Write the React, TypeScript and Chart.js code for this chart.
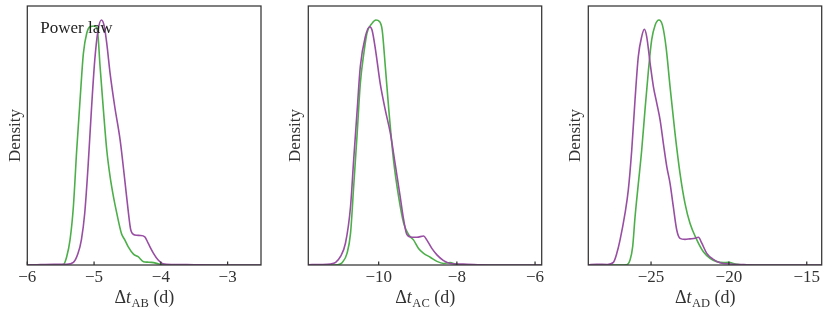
import React, { useEffect, useRef } from 'react';
import { Chart, registerables } from 'chart.js';

Chart.register(...registerables);

const GREEN = '#4daf4a';
const PURPLE = '#984ea3';
const INK = '#333333';
const FONT = '"Liberation Serif", "DejaVu Serif", serif';

// ---------- Panel AB ----------
const abRange = [-6, -2.5];
const abTicks = [-6, -5, -4, -3];
const abGreenX = [-6.0, -5.6, -5.46, -5.41, -5.36, -5.31, -5.26, -5.21, -5.16, -5.11, -5.06, -4.99, -4.95, -4.91, -4.86, -4.81, -4.76, -4.71, -4.66, -4.59, -4.54, -4.49, -4.41, -4.34, -4.26, -4.2, -4.14, -4.04, -3.97, -3.8, -2.5];
const abGreenY = [0, 0, 0.002, 0.032, 0.097, 0.225, 0.444, 0.637, 0.817, 0.895, 0.92, 0.923, 0.907, 0.766, 0.598, 0.444, 0.341, 0.264, 0.2, 0.122, 0.097, 0.071, 0.042, 0.032, 0.013, 0.011, 0.01, 0.005, 0.001, 0, 0];
const abPurpleX = [-6.0, -5.8, -5.6, -5.41, -5.31, -5.24, -5.19, -5.14, -5.09, -5.04, -4.99, -4.94, -4.89, -4.85, -4.81, -4.76, -4.69, -4.61, -4.54, -4.49, -4.45, -4.39, -4.31, -4.24, -4.19, -4.11, -4.04, -3.97, -3.82, -3.5, -3.2, -2.5];
const abPurpleY = [0, 0.002, 0.003, 0.003, 0.01, 0.045, 0.097, 0.2, 0.38, 0.598, 0.79, 0.907, 0.946, 0.925, 0.856, 0.74, 0.611, 0.483, 0.328, 0.212, 0.135, 0.116, 0.114, 0.109, 0.084, 0.045, 0.019, 0.005, 0.002, 0.001, 0, 0];

// ---------- Panel AC ----------
const acRange = [-11.8, -5.83];
const acTicks = [-10, -8, -6];
const acGreenX = [-11.8, -11.2, -11.06, -10.93, -10.81, -10.72, -10.64, -10.55, -10.47, -10.38, -10.3, -10.17, -10.07, -9.98, -9.91, -9.83, -9.74, -9.62, -9.49, -9.36, -9.23, -9.11, -8.98, -8.85, -8.68, -8.51, -8.34, -8.17, -8.04, -7.9, -5.83];
const acGreenY = [0, 0, 0.001, 0.01, 0.045, 0.122, 0.302, 0.508, 0.7, 0.817, 0.895, 0.933, 0.946, 0.94, 0.907, 0.766, 0.598, 0.405, 0.264, 0.161, 0.116, 0.097, 0.064, 0.045, 0.03, 0.014, 0.006, 0.009, 0.004, 0, 0];
const acPurpleX = [-11.8, -11.5, -11.23, -11.1, -10.98, -10.85, -10.72, -10.64, -10.55, -10.47, -10.34, -10.23, -10.17, -10.08, -9.96, -9.83, -9.7, -9.58, -9.45, -9.36, -9.28, -9.15, -9.02, -8.85, -8.77, -8.64, -8.51, -8.34, -8.17, -7.74, -7.4, -7.0, -5.83];
const acPurpleY = [0.001, 0.002, 0.004, 0.01, 0.032, 0.084, 0.225, 0.405, 0.598, 0.766, 0.882, 0.92, 0.907, 0.83, 0.7, 0.598, 0.508, 0.392, 0.264, 0.174, 0.118, 0.107, 0.107, 0.112, 0.097, 0.064, 0.039, 0.017, 0.006, 0.003, 0.001, 0, 0];

// ---------- Panel AD ----------
const adRange = [-29.03, -14.04];
const adTicks = [-25, -20, -15];
const adGreenX = [-29.03, -27, -26.56, -26.35, -26.18, -26.03, -25.82, -25.6, -25.39, -25.17, -24.96, -24.74, -24.49, -24.27, -24.04, -23.78, -23.46, -23.14, -22.82, -22.5, -22.06, -21.64, -21.21, -20.78, -20.36, -20.04, -19.5, -19.07, -14.04];
const adGreenY = [0, 0, 0.001, 0.019, 0.071, 0.184, 0.312, 0.444, 0.598, 0.75, 0.869, 0.926, 0.946, 0.926, 0.843, 0.689, 0.508, 0.354, 0.238, 0.161, 0.097, 0.051, 0.026, 0.013, 0.009, 0.01, 0.003, 0, 0];
const adPurpleX = [-29.03, -28.5, -27.8, -27.42, -27.2, -26.99, -26.67, -26.46, -26.24, -26.03, -25.82, -25.6, -25.43, -25.28, -25.06, -24.85, -24.63, -24.42, -24.21, -23.99, -23.78, -23.57, -23.35, -23.14, -22.82, -22.5, -22.17, -21.96, -21.74, -21.42, -21.0, -20.57, -19.93, -18.85, -18.0, -14.04];
const adPurpleY = [0.001, 0.003, 0.002, 0.01, 0.045, 0.097, 0.2, 0.29, 0.444, 0.637, 0.804, 0.882, 0.91, 0.882, 0.779, 0.689, 0.624, 0.56, 0.47, 0.38, 0.315, 0.225, 0.135, 0.103, 0.099, 0.101, 0.103, 0.107, 0.084, 0.045, 0.022, 0.009, 0.004, 0.001, 0, 0];

const subscripts = ['AB', 'AC', 'AD'];
const panelLabel = 'Power law';
const yTitle = 'Density';

type Panel = {
  left: number;
  width: number;
  axisW: number;
  padRight: number;
  range: number[];
  ticks: number[];
  sub: string;
  label: string | null;
  gx: number[]; gy: number[]; px: number[]; py: number[];
};

const panels: Panel[] = [
  { left: 0, width: 280, axisW: 27.3, padRight: 19, range: abRange, ticks: abTicks, sub: subscripts[0], label: panelLabel, gx: abGreenX, gy: abGreenY, px: abPurpleX, py: abPurpleY },
  { left: 280, width: 280, axisW: 28.3, padRight: 18.3, range: acRange, ticks: acTicks, sub: subscripts[1], label: null, gx: acGreenX, gy: acGreenY, px: acPurpleX, py: acPurpleY },
  { left: 560, width: 270, axisW: 28.3, padRight: 8.3, range: adRange, ticks: adTicks, sub: subscripts[2], label: null, gx: adGreenX, gy: adGreenY, px: adPurpleX, py: adPurpleY },
];

const zip = (xs: number[], ys: number[]) => xs.map((x, i) => ({ x, y: ys[i] }));
const fmt = (v: number) => (v < 0 ? '\u2212' : '') + Math.abs(v);

const framePlugin = {
  id: 'frame',
  afterDraw(chart: any, _args: any, opts: any) {
    const { ctx, chartArea: a, scales } = chart;
    const xs = scales.x;
    ctx.save();
    ctx.strokeStyle = INK;
    ctx.lineWidth = 1.25;
    ctx.beginPath();
    xs.ticks.forEach((t: any) => {
      const p = xs.getPixelForValue(t.value);
      if (p >= a.left - 0.5 && p <= a.right + 0.5) {
        ctx.moveTo(p, a.bottom);
        ctx.lineTo(p, a.bottom - 3.5);
      }
    });
    ctx.stroke();
    ctx.strokeRect(a.left, a.top, a.right - a.left, a.bottom - a.top);

    // x-axis title: Δt_sub (d)
    const parts = [
      { t: '\u0394', f: `18px ${FONT}`, dy: 0 },
      { t: 't', f: `italic 18px ${FONT}`, dy: 0 },
      { t: opts.sub, f: `12.5px ${FONT}`, dy: 3.5 },
      { t: ' (d)', f: `18px ${FONT}`, dy: 0 },
    ];
    let total = 0;
    const widths = parts.map((p) => {
      ctx.font = p.f;
      const w = ctx.measureText(p.t).width;
      total += w;
      return w;
    });
    let x = (a.left + a.right) / 2 - total / 2;
    const base = a.bottom + 38;
    ctx.fillStyle = INK;
    ctx.textBaseline = 'alphabetic';
    ctx.textAlign = 'left';
    parts.forEach((p, i) => {
      ctx.font = p.f;
      ctx.fillText(p.t, x, base + p.dy);
      x += widths[i] + (i === 1 ? 0.5 : 0);
    });

    if (opts.label) {
      ctx.font = `17px ${FONT}`;
      ctx.fillStyle = '#222';
      ctx.fillText(opts.label, a.left + 13, a.top + 27);
    }
    ctx.restore();
  },
};

function PanelChart({ p }: { p: Panel }) {
  const ref = useRef<HTMLCanvasElement>(null);
  useEffect(() => {
    if (!ref.current) return;
    const chart = new Chart(ref.current, {
      type: 'line',
      data: {
        datasets: [
          { data: zip(p.px, p.py), borderColor: PURPLE, borderWidth: 1.6, pointRadius: 0, cubicInterpolationMode: 'monotone', fill: false },
          { data: zip(p.gx, p.gy), borderColor: GREEN, borderWidth: 1.6, pointRadius: 0, cubicInterpolationMode: 'monotone', fill: false },
        ],
      },
      options: {
        animation: false,
        responsive: false,
        devicePixelRatio: 1,
        events: [],
        layout: { padding: { top: 6, right: p.padRight, left: 0, bottom: 0 } },
        plugins: {
          legend: { display: false },
          tooltip: { enabled: false },
          frame: { sub: p.sub, label: p.label },
        } as any,
        scales: {
          x: {
            type: 'linear',
            min: p.range[0],
            max: p.range[1],
            grid: { display: false, drawTicks: false },
            border: { display: false },
            afterBuildTicks: (s: any) => { s.ticks = p.ticks.map((v) => ({ value: v })); },
            ticks: {
              maxRotation: 0,
              autoSkip: false,
              padding: 2,
              color: INK,
              font: { family: FONT, size: 17 },
              callback: (v: any) => fmt(Number(v)),
            },
            afterFit: (s: any) => { s.height = 48; },
          },
          y: {
            type: 'linear',
            min: 0,
            max: 1,
            grid: { display: false, drawTicks: false },
            border: { display: false },
            ticks: { display: false },
            title: { display: true, text: yTitle, color: INK, font: { family: FONT, size: 17 }, padding: { top: 5, bottom: 0 } },
            afterFit: (s: any) => { s.width = p.axisW; },
          },
        },
      },
      plugins: [framePlugin],
    } as any);
    return () => chart.destroy();
  }, [p]);
  return (
    <canvas
      ref={ref}
      width={p.width}
      height={313}
      style={{ position: 'absolute', left: p.left, top: 0, width: p.width, height: 313 }}
    />
  );
}

export default function App() {
  return (
    <div style={{ position: 'absolute', left: 0, top: 0, width: 830, height: 313, background: '#fff' }}>
      {panels.map((p, i) => (
        <PanelChart key={i} p={p} />
      ))}
    </div>
  );
}
